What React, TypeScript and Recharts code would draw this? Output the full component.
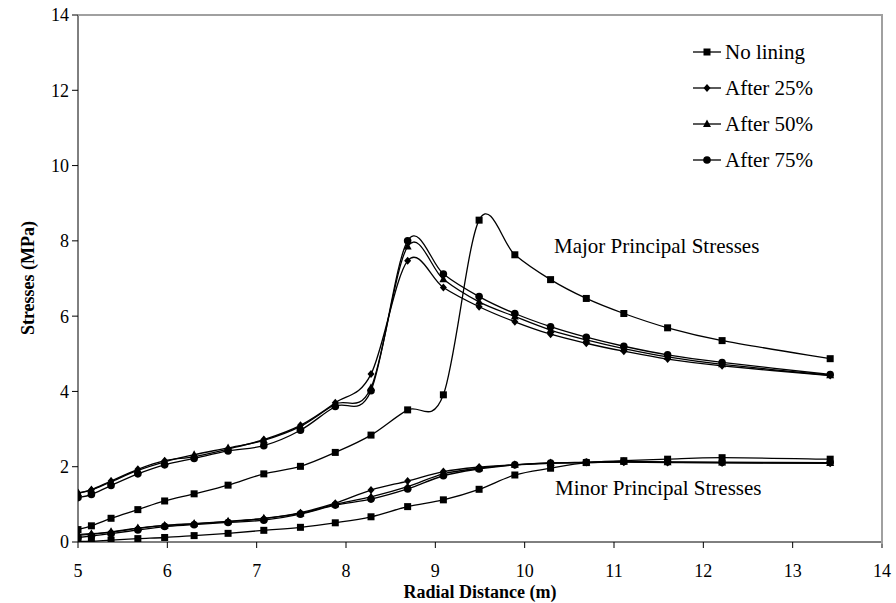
import React from 'react';
import { LineChart, Line, XAxis, YAxis } from 'recharts';

// radial positions of the nodes (m)
const radius = [5.0, 5.15, 5.37, 5.67, 5.97, 6.3, 6.68, 7.08, 7.49, 7.88, 8.28, 8.69, 9.09, 9.49, 9.89, 10.29, 10.69, 11.11, 11.6, 12.21, 13.42];

// major principal stresses (MPa)
const majorNoLining = [0.33, 0.43, 0.63, 0.86, 1.09, 1.28, 1.51, 1.81, 2.01, 2.38, 2.84, 3.51, 3.91, 8.55, 7.63, 6.97, 6.47, 6.07, 5.69, 5.35, 4.87];
const major25 = [1.3, 1.39, 1.62, 1.93, 2.16, 2.27, 2.47, 2.72, 3.1, 3.7, 4.46, 7.47, 6.76, 6.25, 5.85, 5.52, 5.28, 5.07, 4.86, 4.68, 4.42];
const major50 = [1.3, 1.38, 1.6, 1.9, 2.13, 2.32, 2.5, 2.7, 3.07, 3.66, 4.1, 7.85, 6.98, 6.38, 5.99, 5.63, 5.37, 5.14, 4.92, 4.72, 4.43];
const major75 = [1.18, 1.26, 1.5, 1.81, 2.05, 2.22, 2.42, 2.56, 2.97, 3.6, 4.02, 8.0, 7.12, 6.52, 6.07, 5.72, 5.44, 5.2, 4.97, 4.77, 4.45];

// minor principal stresses (MPa)
const minorNoLining = [0.02, 0.02, 0.05, 0.09, 0.12, 0.17, 0.23, 0.31, 0.39, 0.51, 0.67, 0.94, 1.12, 1.4, 1.78, 1.96, 2.11, 2.16, 2.2, 2.24, 2.2];
const minor25 = [0.18, 0.2, 0.26, 0.36, 0.44, 0.48, 0.54, 0.62, 0.78, 1.03, 1.38, 1.62, 1.87, 1.99, 2.05, 2.09, 2.11, 2.12, 2.11, 2.1, 2.09];
const minor50 = [0.2, 0.22, 0.27, 0.37, 0.44, 0.49, 0.55, 0.63, 0.76, 1.0, 1.2, 1.47, 1.81, 1.96, 2.05, 2.1, 2.11, 2.13, 2.12, 2.11, 2.1];
const minor75 = [0.12, 0.16, 0.22, 0.32, 0.41, 0.46, 0.52, 0.58, 0.74, 0.98, 1.14, 1.41, 1.76, 1.94, 2.05, 2.1, 2.12, 2.14, 2.13, 2.12, 2.11];

const xTicks = [5, 6, 7, 8, 9, 10, 11, 12, 13, 14];
const yTicks = [0, 2, 4, 6, 8, 10, 12, 14];

const seriesNames = ['No lining', 'After 25%', 'After 50%', 'After 75%'];
const shapes = ['square', 'diamond', 'triangle', 'circle'];

const data = radius.map((x, i) => ({
  x,
  maj0: majorNoLining[i],
  maj1: major25[i],
  maj2: major50[i],
  maj3: major75[i],
  min0: minorNoLining[i],
  min1: minor25[i],
  min2: minor50[i],
  min3: minor75[i],
}));

const FONT = 'Liberation Serif, Times New Roman, serif';

// Excel-like smoothed line (Catmull-Rom as cubic bezier)
const excelSmooth: any = (context: any) => {
  let pts: number[][] = [];
  return {
    areaStart() {},
    areaEnd() {},
    lineStart() {
      pts = [];
    },
    point(x: number, y: number) {
      pts.push([+x, +y]);
    },
    lineEnd() {
      if (!pts.length) return;
      context.moveTo(pts[0][0], pts[0][1]);
      for (let i = 0; i < pts.length - 1; i++) {
        const p0 = pts[i - 1] || pts[i];
        const p1 = pts[i];
        const p2 = pts[i + 1];
        const p3 = pts[i + 2] || p2;
        context.bezierCurveTo(
          p1[0] + (p2[0] - p0[0]) / 6,
          p1[1] + (p2[1] - p0[1]) / 6,
          p2[0] - (p3[0] - p1[0]) / 6,
          p2[1] - (p3[1] - p1[1]) / 6,
          p2[0],
          p2[1]
        );
      }
    },
  };
};

function Marker({ shape, cx, cy }: { shape: string; cx?: number; cy?: number }) {
  if (cx == null || cy == null) return null;
  if (shape === 'square') return <rect x={cx - 3.5} y={cy - 3.5} width={7} height={7} fill="#000" />;
  if (shape === 'diamond')
    return <polygon points={`${cx},${cy - 4} ${cx + 3.5},${cy} ${cx},${cy + 4} ${cx - 3.5},${cy}`} fill="#000" />;
  if (shape === 'triangle')
    return <polygon points={`${cx},${cy - 4.5} ${cx + 4},${cy + 3} ${cx - 4},${cy + 3}`} fill="#000" />;
  return <circle cx={cx} cy={cy} r={3.8} fill="#000" />;
}

const dotFor = (shape: string, id: string) => (p: any) => (
  <Marker key={`${id}-${p.index}`} shape={shape} cx={p.cx} cy={p.cy} />
);

export default function App() {
  const groups = ['maj', 'min'];
  return (
    <div style={{ position: 'absolute', left: 0, top: 0, width: 896, height: 603, background: '#fff', fontFamily: FONT }}>
      <LineChart width={896} height={603} data={data} margin={{ top: 15, right: 14, bottom: 21, left: 18 }}>
        <XAxis
          type="number"
          dataKey="x"
          domain={[5, 14]}
          ticks={xTicks}
          allowDataOverflow
          height={40}
          stroke="#000"
          tickSize={6}
          tickMargin={16}
          tick={{ fill: '#000', fontSize: 18, fontFamily: FONT }}
          label={{
            content: () => (
              <text x={480} y={598} textAnchor="middle" fontFamily={FONT} fontWeight="bold" fontSize={18} fill="#000">
                Radial Distance (m)
              </text>
            ),
          }}
        />
        <YAxis
          type="number"
          domain={[0, 14]}
          ticks={yTicks}
          allowDataOverflow
          width={60}
          stroke="#000"
          tickSize={6}
          tickMargin={3}
          tick={{ fill: '#000', fontSize: 18, fontFamily: FONT }}
          label={{
            content: () => (
              <text
                x={30}
                y={278}
                transform="rotate(-90 30 278)"
                textAnchor="middle"
                dominantBaseline="middle"
                fontFamily={FONT}
                fontWeight="bold"
                fontSize={18}
                fill="#000"
              >
                Stresses (MPa)
              </text>
            ),
          }}
        />
        {groups.map(g =>
          shapes.map((s, i) => (
            <Line
              key={`${g}${i}`}
              dataKey={`${g}${i}`}
              name={seriesNames[i]}
              type={excelSmooth}
              stroke="#000"
              strokeWidth={1.3}
              dot={dotFor(s, `${g}${i}`)}
              activeDot={false}
              isAnimationActive={false}
            />
          ))
        )}
      </LineChart>

      {/* plot area frame, top and right */}
      <div
        style={{
          position: 'absolute',
          left: 78,
          top: 14,
          width: 803,
          height: 528,
          borderTop: '2px solid #a0a0a0',
          borderRight: '2px solid #a0a0a0',
          pointerEvents: 'none',
        }}
      />

      <div style={{ position: 'absolute', left: 693, top: 34, fontSize: 21, color: '#000' }}>
        {seriesNames.map((name, i) => (
          <div key={name} style={{ display: 'flex', alignItems: 'center', height: 36 }}>
            <svg width={28} height={12} style={{ display: 'block' }}>
              <line x1={0} y1={6} x2={28} y2={6} stroke="#000" strokeWidth={1.3} />
              <Marker shape={shapes[i]} cx={14} cy={6} />
            </svg>
            <span style={{ marginLeft: 4 }}>{name}</span>
          </div>
        ))}
      </div>

      <div style={{ position: 'absolute', left: 554, top: 234, fontSize: 21, color: '#000', whiteSpace: 'nowrap' }}>
        Major Principal Stresses
      </div>
      <div style={{ position: 'absolute', left: 555, top: 476, fontSize: 21, color: '#000', whiteSpace: 'nowrap' }}>
        Minor Principal Stresses
      </div>
    </div>
  );
}
